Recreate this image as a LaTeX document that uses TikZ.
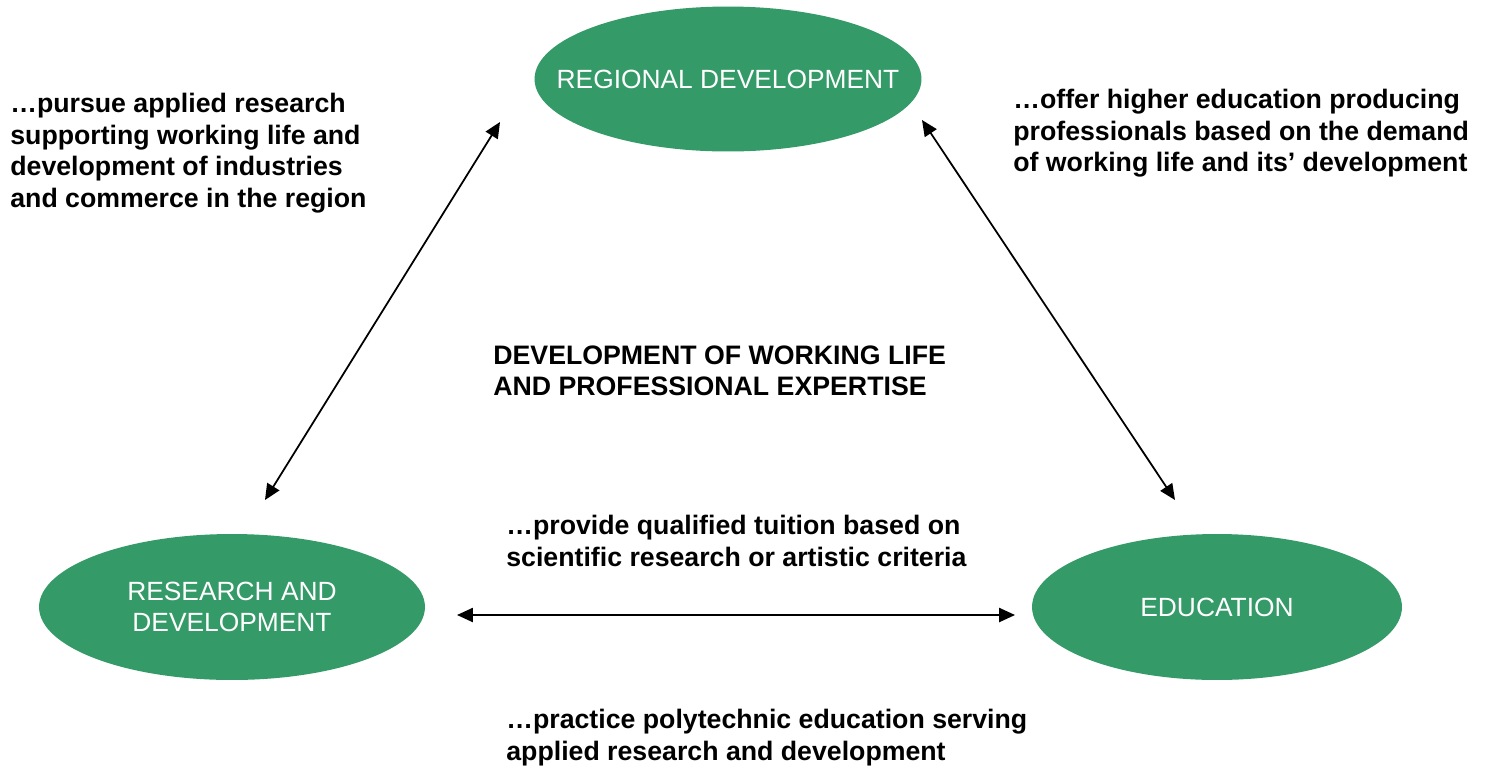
\documentclass[tikz,border=0pt]{standalone}
\usepackage{fontspec}
\setmainfont{Liberation Sans}
\usetikzlibrary{arrows.meta,shapes.geometric}
\definecolor{oval}{RGB}{52,154,104}
\tikzset{
  ovalnode/.style={ellipse, fill=oval, inner sep=0pt},
  ovaltext/.style={text=white, align=center, font=\fontsize{15}{18}\selectfont},
  note/.style={anchor=north west, align=left, inner sep=0pt,
    font=\bfseries\fontsize{15.2}{18}\selectfont},
  link/.style={{Triangle[length=9pt,width=8pt]}-{Triangle[length=9pt,width=8pt]}, line width=1pt}
}
\begin{document}
\begin{tikzpicture}[x=0.02cm,y=-0.02cm]
		%%%%% FRAME %%%%%
		\useasboundingbox (0,0) rectangle (1485,765);
		
		%%%%% OVALS %%%%%
		\node[ovalnode, minimum width=7.74cm, minimum height=2.9cm,
		  label={[ovaltext]center:REGIONAL DEVELOPMENT}] (reg) at (728,79) {};
		\node[ovalnode, minimum width=7.72cm, minimum height=2.92cm,
		  label={[ovaltext]center:RESEARCH AND\\DEVELOPMENT}] (rd) at (232,607) {};
		\node[ovalnode, minimum width=7.4cm, minimum height=2.92cm,
		  label={[ovaltext]center:EDUCATION}] (edu) at (1217,607) {};
		
		%%%%% ARROW ENDS %%%%%
		\coordinate (reg-sw) at (500,122);
		\coordinate (rd-ne) at (265,500);
		\coordinate (reg-se) at (922,120);
		\coordinate (edu-nw) at (1175,500);
		\coordinate (rd-e) at (457,615);
		\coordinate (edu-w) at (1015,615);
		
		\draw[link] (reg-sw) -- (rd-ne);
		\draw[link] (reg-se) -- (edu-nw);
		\draw[link] (rd-e) -- (edu-w);
		
		%%%%% TEXTS %%%%%
		\node[note] (research-note) at (10,93) {…pursue applied research\\supporting working life and\\development of industries\\and commerce in the region};
		\node[note] (education-note) at (1013,89) {…offer higher education producing\\professionals based on the demand\\of working life and its’ development};
		\node[note] (centre-note) at (493,345) {DEVELOPMENT OF WORKING LIFE\\AND PROFESSIONAL EXPERTISE};
		\node[note] (tuition-note) at (506,515) {…provide qualified tuition based on\\scientific research or artistic criteria};
		\node[note] (practice-note) at (506,709) {…practice polytechnic education serving\\applied research and development};
\end{tikzpicture}
\end{document}
